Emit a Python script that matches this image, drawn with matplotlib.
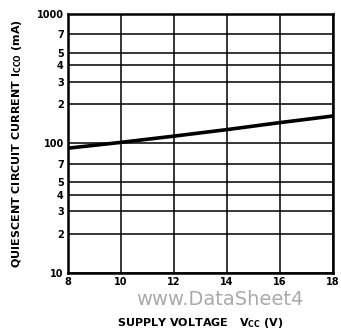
import matplotlib
matplotlib.use("Agg")
import matplotlib.pyplot as plt
import numpy as np

# supply voltage (V) vs quiescent current (mA)
vcc = [8, 10, 12, 14, 16, 18]
icco = [92, 102, 114, 128, 145, 163]

xticks = [8, 10, 12, 14, 16, 18]
yticks = [10, 20, 30, 40, 50, 70, 100, 200, 300, 400, 500, 700, 1000]
ylabels = ["10", "2", "3", "4", "5", "7", "100", "2", "3", "4", "5", "7", "1000"]

fig = plt.figure(figsize=(3.41, 3.31), dpi=100, facecolor='w')
ax = fig.add_axes([0.199, 0.175, 0.778, 0.783])

ax.set_yscale('log')
ax.set_xlim(8, 18)
ax.set_ylim(10, 1000)

ax.plot(vcc, icco, 'k', linewidth=2.6, solid_capstyle='butt')

ax.set_xticks(xticks)
ax.set_xticklabels([str(v) for v in xticks], fontsize=7, fontweight='bold')
ax.set_yticks(yticks)
ax.set_yticklabels(ylabels, fontsize=7, fontweight='bold')
ax.yaxis.set_minor_locator(matplotlib.ticker.NullLocator())
ax.tick_params(length=0, pad=3)

ax.grid(True, color='k', linewidth=1.1)
for s in ax.spines.values():
    s.set_linewidth(1.8)

ax.set_xlabel(r"SUPPLY VOLTAGE   V$_{\mathregular{CC}}$ (V)", fontsize=8,
              fontweight='bold', labelpad=21)
ax.set_ylabel(r"QUIESCENT CIRCUIT CURRENT I$_{\mathregular{CCO}}$ (mA)", fontsize=8,
              fontweight='bold', labelpad=9)

fig.text(0.40, 0.078, "www.DataSheet4", fontsize=14, color='#aaaaaa',
         family='Liberation Sans Narrow', zorder=0)

plt.savefig("out.png", dpi=100)
